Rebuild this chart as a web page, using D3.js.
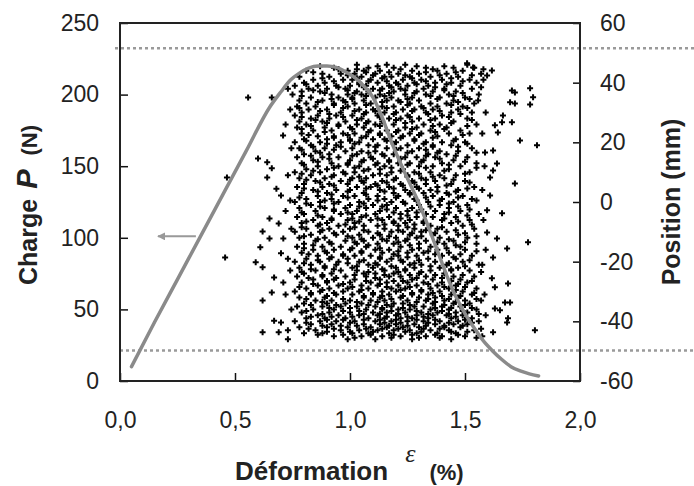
<!DOCTYPE html>
<html>
<head>
<meta charset="utf-8">
<script src="https://cdn.jsdelivr.net/npm/d3@7"></script>
<style>
  body { margin: 0; background: #fff; }
  svg { display: block; }
</style>
</head>
<body>
<svg id="chart" width="694" height="486"></svg>
<script>
// axes
const strainTicks = [0, 0.5, 1.0, 1.5, 2.0];
const loadTicks = [0, 50, 100, 150, 200, 250];
const positionTicks = [-60, -40, -20, 0, 20, 40, 60];

// load curve (left axis)
const loadStrain = [0.05, 0.15, 0.25, 0.35, 0.45, 0.55, 0.65, 0.70, 0.74, 0.78, 0.82, 0.86, 0.90, 0.94, 0.98,
  1.02, 1.06, 1.10, 1.14, 1.18, 1.22, 1.26, 1.30, 1.34, 1.38, 1.42, 1.46, 1.50, 1.54, 1.58, 1.62, 1.66,
  1.70, 1.74, 1.78, 1.82];
const loadValues = [10, 41, 71, 101, 131, 161, 191, 202, 210, 215, 218.5, 220, 220, 219, 216,
  212, 206, 198, 184, 167, 152, 138, 124, 108, 91, 74, 59, 47, 37, 28, 21, 15,
  10, 7, 5, 3.5];

// position scatter (right axis): [position mm, strains %]
const scatterRows = [
  [46, [1.03, 1.16, 1.24, 1.51]],
  [45, [0.93, 1.08, 1.19, 1.33, 1.45, 1.54]],
  [44, [0.81, 0.99, 1.06, 1.13, 1.27, 1.38, 1.49]],
  [43, [0.88, 0.96, 1.02, 1.11, 1.21, 1.30, 1.42, 1.57]],
  [42, [0.78, 0.91, 1.05, 1.15, 1.18, 1.26, 1.35, 1.47]],
  [41, [0.84, 0.97, 1.01, 1.09, 1.23, 1.31, 1.40, 1.52]],
  [40, [0.80, 0.89, 1.04, 1.12, 1.20, 1.28, 1.37, 1.44, 1.55]],
  [39, [0.76, 0.86, 0.94, 1.00, 1.07, 1.17, 1.25, 1.34, 1.48]],
  [38, [0.82, 0.90, 0.98, 1.10, 1.14, 1.22, 1.32, 1.41, 1.53]],
  [37, [0.79, 0.87, 1.03, 1.08, 1.19, 1.29, 1.36, 1.46]],
  [36, [0.75, 0.92, 0.99, 1.05, 1.13, 1.24, 1.33, 1.43, 1.56]],
  [35, [0.83, 0.95, 1.01, 1.11, 1.18, 1.27, 1.39, 1.50]],
  [34, [0.78, 0.88, 0.97, 1.06, 1.16, 1.21, 1.30, 1.45]],
  [33, [0.81, 0.93, 1.02, 1.09, 1.26, 1.35, 1.42, 1.54]],
  [32, [0.77, 0.85, 0.99, 1.14, 1.19, 1.31, 1.38, 1.49]],
  [31, [0.82, 0.90, 1.04, 1.10, 1.23, 1.28, 1.36, 1.47]],
  [30, [0.79, 0.96, 1.07, 1.15, 1.20, 1.33, 1.44, 1.53]],
  [29, [0.76, 0.86, 0.94, 1.01, 1.12, 1.25, 1.40]],
  [28, [0.83, 0.91, 1.05, 1.17, 1.22, 1.30, 1.37, 1.51]],
  [27, [0.78, 0.88, 0.98, 1.08, 1.14, 1.27, 1.45]],
  [26, [0.81, 0.95, 1.03, 1.11, 1.19, 1.32, 1.39, 1.55]],
  [25, [0.77, 0.89, 1.00, 1.06, 1.24, 1.29, 1.42]],
  [24, [0.84, 0.92, 1.09, 1.16, 1.21, 1.35, 1.48]],
  [23, [0.79, 0.97, 1.02, 1.13, 1.26, 1.31, 1.43, 1.52]],
  [22, [0.86, 0.93, 1.07, 1.18, 1.23, 1.38]],
  [21, [0.80, 0.90, 1.00, 1.10, 1.15, 1.28, 1.46]],
  [20, [0.76, 0.87, 0.96, 1.04, 1.20, 1.33, 1.40, 1.50]],
  [19, [0.83, 0.94, 1.08, 1.12, 1.25, 1.36, 1.44]],
  [18, [0.78, 0.89, 1.01, 1.16, 1.22, 1.30, 1.53]],
  [17, [0.85, 0.98, 1.05, 1.11, 1.27, 1.39, 1.47]],
  [16, [0.80, 0.91, 1.03, 1.14, 1.19, 1.34, 1.42]],
  [15, [0.77, 0.88, 0.95, 1.09, 1.24, 1.29, 1.37, 1.51]],
  [14, [0.84, 1.00, 1.06, 1.17, 1.32, 1.45]],
  [13, [0.79, 0.92, 0.99, 1.12, 1.21, 1.26, 1.40, 1.55]],
  [12, [0.86, 0.95, 1.04, 1.15, 1.30, 1.36, 1.48]],
  [11, [0.81, 0.90, 1.08, 1.13, 1.23, 1.43]],
  [10, [0.76, 0.87, 0.97, 1.02, 1.18, 1.28, 1.35, 1.52]],
  [9, [0.83, 0.93, 1.10, 1.16, 1.25, 1.39, 1.46]],
  [8, [0.78, 0.89, 1.01, 1.07, 1.20, 1.31, 1.41]],
  [7, [0.85, 0.96, 1.05, 1.14, 1.27, 1.37, 1.50]],
  [6, [0.80, 0.91, 0.99, 1.11, 1.22, 1.33, 1.44]],
  [5, [0.77, 0.88, 1.03, 1.09, 1.17, 1.29, 1.38, 1.54]],
  [4, [0.84, 0.94, 1.00, 1.13, 1.24, 1.35, 1.47]],
  [3, [0.79, 0.90, 1.06, 1.19, 1.26, 1.32, 1.42]],
  [2, [0.86, 0.97, 1.02, 1.12, 1.21, 1.36, 1.49]],
  [1, [0.81, 0.92, 1.08, 1.15, 1.28, 1.40, 1.53]],
  [0, [0.76, 0.87, 0.95, 1.04, 1.18, 1.23, 1.34, 1.45]],
  [-1, [0.83, 1.00, 1.10, 1.16, 1.30, 1.39, 1.51]],
  [-2, [0.78, 0.89, 0.98, 1.07, 1.20, 1.27, 1.43]],
  [-3, [0.85, 0.93, 1.03, 1.13, 1.25, 1.37, 1.48]],
  [-4, [0.80, 0.96, 1.01, 1.11, 1.22, 1.33, 1.41, 1.56]],
  [-5, [0.77, 0.88, 1.05, 1.17, 1.29, 1.36, 1.46]],
  [-6, [0.84, 0.92, 0.99, 1.09, 1.14, 1.26, 1.40, 1.52]],
  [-7, [0.79, 0.90, 1.02, 1.19, 1.24, 1.32, 1.44]],
  [-8, [0.86, 0.95, 1.06, 1.12, 1.21, 1.35, 1.49]],
  [-9, [0.81, 0.91, 1.00, 1.15, 1.28, 1.38, 1.54]],
  [-10, [0.76, 0.87, 0.97, 1.08, 1.18, 1.23, 1.31, 1.42]],
  [-11, [0.83, 0.94, 1.04, 1.13, 1.26, 1.36, 1.47]],
  [-12, [0.78, 0.89, 1.01, 1.10, 1.20, 1.29, 1.39, 1.51]],
  [-13, [0.85, 0.98, 1.06, 1.16, 1.24, 1.33, 1.45]],
  [-14, [0.80, 0.92, 1.03, 1.12, 1.19, 1.30, 1.41, 1.55]],
  [-15, [0.77, 0.88, 0.96, 1.07, 1.22, 1.35, 1.48]],
  [-16, [0.84, 0.93, 1.00, 1.11, 1.17, 1.27, 1.38, 1.50]],
  [-17, [0.79, 0.90, 1.05, 1.14, 1.25, 1.32, 1.43]],
  [-18, [0.86, 0.97, 1.02, 1.09, 1.21, 1.29, 1.40, 1.53]],
  [-19, [0.81, 0.91, 0.99, 1.13, 1.18, 1.34, 1.46]],
  [-20, [0.76, 0.87, 0.95, 1.04, 1.16, 1.23, 1.37, 1.49]],
  [-21, [0.83, 0.94, 1.08, 1.12, 1.26, 1.31, 1.42, 1.56]],
  [-22, [0.78, 0.89, 1.01, 1.10, 1.20, 1.28, 1.39, 1.47]],
  [-23, [0.85, 0.96, 1.03, 1.15, 1.24, 1.35, 1.44, 1.52]],
  [-24, [0.80, 0.92, 1.06, 1.11, 1.19, 1.30, 1.41]],
  [-25, [0.77, 0.88, 0.98, 1.07, 1.17, 1.22, 1.33, 1.45, 1.54]],
  [-26, [0.84, 0.93, 1.02, 1.13, 1.27, 1.36, 1.48]],
  [-27, [0.79, 0.90, 1.00, 1.09, 1.16, 1.25, 1.32, 1.40, 1.51]],
  [-28, [0.86, 0.95, 1.05, 1.12, 1.21, 1.29, 1.38, 1.46]],
  [-29, [0.81, 0.91, 0.99, 1.08, 1.18, 1.24, 1.35, 1.43, 1.55]],
  [-30, [0.76, 0.87, 0.97, 1.04, 1.14, 1.20, 1.31, 1.39, 1.49]],
  [-31, [0.83, 0.94, 1.01, 1.10, 1.17, 1.27, 1.34, 1.44, 1.53]],
  [-32, [0.78, 0.89, 1.06, 1.13, 1.22, 1.30, 1.37, 1.47]],
  [-33, [0.85, 0.92, 1.00, 1.09, 1.15, 1.25, 1.33, 1.41, 1.50, 1.57]],
  [-34, [0.80, 0.90, 0.98, 1.05, 1.19, 1.23, 1.36, 1.45, 1.52]],
  [-35, [0.77, 0.88, 0.96, 1.03, 1.11, 1.18, 1.28, 1.32, 1.40, 1.48]],
  [-36, [0.84, 0.93, 1.07, 1.14, 1.21, 1.26, 1.35, 1.43, 1.55]],
  [-37, [0.79, 0.91, 1.00, 1.10, 1.16, 1.24, 1.31, 1.38, 1.46, 1.51]],
  [-38, [0.86, 0.95, 1.04, 1.12, 1.20, 1.29, 1.36, 1.42, 1.49]],
  [-39, [0.81, 0.89, 0.98, 1.08, 1.15, 1.22, 1.27, 1.34, 1.44, 1.53]],
  [-40, [0.76, 0.87, 0.94, 1.02, 1.11, 1.18, 1.25, 1.32, 1.39, 1.47, 1.56]],
  [-41, [0.83, 0.92, 1.06, 1.13, 1.20, 1.28, 1.37, 1.45, 1.51]],
  [-42, [0.78, 0.90, 0.99, 1.09, 1.16, 1.23, 1.30, 1.41, 1.48]],
  [-43, [0.85, 0.96, 1.04, 1.12, 1.19, 1.26, 1.35, 1.43, 1.54]],
  [-44, [0.80, 0.88, 1.01, 1.08, 1.17, 1.29, 1.38, 1.46]],
  [-45, [0.93, 1.05, 1.14, 1.22, 1.33, 1.40, 1.50]],
  [-46, [0.99, 1.11, 1.27, 1.44]]
];

// second, offset set of rows read between the ones above
const scatterRowsOffset = [
  [45.5, [0.87, 1.12, 1.29, 1.41]],
  [44.5, [0.95, 1.03, 1.22, 1.36, 1.58]],
  [43.5, [0.84, 1.07, 1.17, 1.33, 1.46]],
  [42.5, [0.99, 1.10, 1.24, 1.39, 1.53]],
  [41.5, [0.88, 1.03, 1.14, 1.27, 1.44]],
  [40.5, [0.93, 1.08, 1.16, 1.33, 1.49]],
  [39.5, [0.81, 1.04, 1.21, 1.29, 1.42]],
  [38.5, [0.95, 1.06, 1.18, 1.37, 1.57]],
  [37.5, [0.84, 0.99, 1.13, 1.24, 1.41]],
  [36.5, [0.89, 1.02, 1.17, 1.28, 1.49]],
  [35.5, [0.79, 1.07, 1.15, 1.35, 1.45]],
  [34.5, [0.92, 1.01, 1.25, 1.38, 1.52]],
  [33.5, [0.86, 0.98, 1.14, 1.22, 1.47]],
  [32.5, [0.93, 1.07, 1.25, 1.44]],
  [31.5, [0.78, 0.97, 1.16, 1.32, 1.51]],
  [30.5, [0.87, 1.02, 1.11, 1.27, 1.39]],
  [29.5, [0.91, 1.06, 1.19, 1.34, 1.48]],
  [28.5, [0.79, 0.97, 1.13, 1.26, 1.43]],
  [27.5, [0.85, 1.03, 1.20, 1.35, 1.53]],
  [26.5, [0.90, 1.07, 1.24, 1.44]],
  [25.5, [0.83, 0.95, 1.13, 1.36, 1.51]],
  [24.5, [0.79, 1.01, 1.27, 1.41]],
  [23.5, [0.89, 1.08, 1.20, 1.37]],
  [22.5, [0.82, 0.99, 1.13, 1.30, 1.49]],
  [21.5, [0.93, 1.05, 1.22, 1.36]],
  [20.5, [0.81, 1.00, 1.16, 1.28, 1.45]],
  [19.5, [0.90, 1.02, 1.19, 1.32, 1.51]],
  [18.5, [0.84, 0.96, 1.11, 1.36, 1.47]],
  [17.5, [0.79, 0.93, 1.20, 1.33]],
  [16.5, [0.87, 1.08, 1.25, 1.38, 1.55]],
  [15.5, [0.83, 1.01, 1.15, 1.33, 1.46]],
  [14.5, [0.91, 1.10, 1.22, 1.39]],
  [13.5, [0.86, 1.05, 1.17, 1.31, 1.50]],
  [12.5, [0.80, 0.99, 1.11, 1.25, 1.43]],
  [11.5, [0.93, 1.02, 1.18, 1.33, 1.55]],
  [10.5, [0.84, 1.06, 1.22, 1.41]],
  [9.5, [0.79, 0.98, 1.13, 1.30, 1.50]],
  [8.5, [0.92, 1.04, 1.25, 1.36]],
  [7.5, [0.81, 1.00, 1.19, 1.33, 1.45]],
  [6.5, [0.87, 1.06, 1.16, 1.28, 1.52]],
  [5.5, [0.93, 1.12, 1.23, 1.42]],
  [4.5, [0.80, 1.07, 1.19, 1.30, 1.51]],
  [3.5, [0.86, 0.99, 1.15, 1.38, 1.46]],
  [2.5, [0.92, 1.07, 1.26, 1.43]],
  [1.5, [0.78, 0.99, 1.20, 1.33, 1.47]],
  [0.5, [0.89, 1.12, 1.29, 1.39, 1.55]],
  [-0.5, [0.81, 0.93, 1.06, 1.24, 1.43]],
  [-1.5, [0.87, 1.04, 1.14, 1.35, 1.47]],
  [-2.5, [0.93, 1.16, 1.31, 1.52]],
  [-3.5, [0.79, 0.99, 1.19, 1.29, 1.43]],
  [-4.5, [0.86, 1.07, 1.25, 1.51]],
  [-5.5, [0.92, 1.01, 1.12, 1.22, 1.41]],
  [-6.5, [0.81, 1.04, 1.19, 1.32, 1.47]],
  [-7.5, [0.87, 0.98, 1.15, 1.28, 1.53]],
  [-8.5, [0.79, 1.02, 1.25, 1.40]],
  [-9.5, [0.88, 1.06, 1.21, 1.33, 1.46]],
  [-10.5, [0.93, 1.12, 1.27, 1.37, 1.50]],
  [-11.5, [0.80, 0.99, 1.17, 1.31, 1.55]],
  [-12.5, [0.86, 1.05, 1.14, 1.25, 1.43]],
  [-13.5, [0.91, 1.02, 1.21, 1.38, 1.50]],
  [-14.5, [0.84, 1.08, 1.26, 1.46]],
  [-15.5, [0.80, 1.01, 1.13, 1.30, 1.42]],
  [-16.5, [0.89, 1.05, 1.21, 1.34, 1.55]],
  [-17.5, [0.82, 0.97, 1.19, 1.37, 1.48]],
  [-18.5, [0.92, 1.13, 1.25, 1.45]],
  [-19.5, [0.86, 1.06, 1.22, 1.30, 1.52]],
  [-20.5, [0.80, 0.99, 1.11, 1.28, 1.43]],
  [-21.5, [0.89, 1.03, 1.18, 1.35, 1.50]],
  [-22.5, [0.83, 0.93, 1.14, 1.24, 1.44]],
  [-23.5, [0.79, 1.08, 1.21, 1.31, 1.57]],
  [-24.5, [0.88, 1.02, 1.15, 1.26, 1.37, 1.49]],
  [-25.5, [0.82, 0.94, 1.11, 1.29, 1.40]],
  [-26.5, [0.90, 1.07, 1.19, 1.23, 1.44, 1.53]],
  [-27.5, [0.84, 0.97, 1.13, 1.34, 1.47]],
  [-28.5, [0.78, 1.01, 1.16, 1.26, 1.41, 1.50]],
  [-29.5, [0.88, 1.05, 1.22, 1.31, 1.46]],
  [-30.5, [0.83, 0.93, 1.10, 1.27, 1.36, 1.54]],
  [-31.5, [0.90, 1.06, 1.14, 1.23, 1.40, 1.48]],
  [-32.5, [0.81, 0.97, 1.18, 1.34, 1.43, 1.55]],
  [-33.5, [0.88, 1.03, 1.12, 1.29, 1.37, 1.46]],
  [-34.5, [0.83, 0.94, 1.08, 1.16, 1.26, 1.41, 1.50]],
  [-35.5, [0.91, 1.00, 1.14, 1.23, 1.37, 1.44, 1.53]],
  [-36.5, [0.81, 0.97, 1.04, 1.18, 1.29, 1.40, 1.49]],
  [-37.5, [0.88, 1.06, 1.13, 1.21, 1.34, 1.43, 1.56]],
  [-38.5, [0.83, 0.92, 1.01, 1.16, 1.25, 1.32, 1.46]],
  [-39.5, [0.90, 0.97, 1.06, 1.13, 1.20, 1.29, 1.37, 1.50]],
  [-40.5, [0.81, 1.00, 1.15, 1.22, 1.34, 1.43, 1.53]],
  [-41.5, [0.88, 0.96, 1.03, 1.17, 1.25, 1.33, 1.41, 1.49]],
  [-42.5, [0.82, 0.93, 1.07, 1.14, 1.21, 1.32, 1.39, 1.57]],
  [-43.5, [0.90, 1.00, 1.10, 1.24, 1.31, 1.44, 1.51]],
  [-44.5, [0.86, 0.97, 1.09, 1.19, 1.27, 1.37, 1.47]],
  [-45.5, [1.02, 1.18, 1.30, 1.39, 1.55]]
];

// isolated points outside the dense cloud: [strain %, position mm]
const outlierPoints = [
  [0.465, 8.2], [0.457, -18.6], [0.557, 35], [0.66, 35], [0.709, 22.3], [0.60, 14.6], [0.64, 13.3],
  [0.66, 11.3], [0.64, 8.2], [0.68, 4.4], [0.70, 2.2], [0.65, -5.5], [0.69, -7.2], [0.62, -9.9],
  [0.65, -12.2], [0.71, -12.2], [0.61, -15.2], [0.70, -17.2], [0.59, -20.2], [0.62, -21.9],
  [0.67, -25.3], [0.71, -27], [0.66, -30.3], [0.62, -33], [0.67, -39.8], [0.70, -40.4],
  [0.62, -43.7], [0.69, -43.7], [0.73, -43],
  [0.73, 38], [0.74, 31], [0.72, 26], [0.745, 18], [0.73, 9], [0.74, 0.5], [0.72, -3],
  [0.745, -9], [0.73, -19], [0.74, -23], [0.72, -31], [0.745, -36], [0.73, -46],
  [1.58, 41], [1.59, 30], [1.575, 23], [1.585, 12], [1.575, 4], [1.58, -6], [1.59, -16],
  [1.575, -21], [1.585, -31], [1.59, -38], [1.575, -45],
  [1.509, 46.5], [1.535, 45.1], [1.557, 34], [1.617, 44.1], [1.596, 42.4], [1.704, 37.4],
  [1.717, 36.7], [1.783, 38.1], [1.796, 35.1], [1.696, 33.4], [1.717, 33.0], [1.783, 32.7],
  [1.665, 29.0], [1.661, 26.7], [1.704, 26.7], [1.739, 20.6], [1.813, 19.0], [1.63, 25.7],
  [1.643, 23.3], [1.587, 16.6], [1.622, 17.3], [1.639, 12.9], [1.622, 10.6], [1.609, 8.2],
  [1.717, 6.2], [1.609, 2.2], [1.596, -2.8], [1.661, -3.8], [1.596, -10.2], [1.639, -12.2],
  [1.774, -13.5], [1.683, -15.6], [1.622, -18.6], [1.617, -25.6], [1.63, -28.6], [1.687, -27.3],
  [1.674, -33.7], [1.696, -33.7], [1.63, -35.7], [1.652, -36.3], [1.687, -39.0], [1.683, -40.4],
  [1.622, -43.7], [1.804, -43.0]
];

// dotted limit lines (right axis, mm) and arrow (left axis)
const limitPositions = [51.5, -49.8];
const arrowStrain = [0.33, 0.165];
const arrowLoad = 101;

const width = 694, height = 486;
const margin = { left: 120, right: 114, top: 23, bottom: 105 };
const sans = "'Liberation Sans', Arial, Helvetica, sans-serif";
const serif = "'Liberation Serif', 'Times New Roman', serif";

const svg = d3.select('#chart');

const x = d3.scaleLinear().domain([0, 2]).range([margin.left, width - margin.right]);
const yLoad = d3.scaleLinear().domain([0, 250]).range([height - margin.bottom, margin.top]);
const yPos = d3.scaleLinear().domain([-60, 60]).range([height - margin.bottom, margin.top]);

const fmtComma = d => d3.format('.1f')(d).replace('.', ',');
const fmtHyphen = d => String(d);

// dotted lines
svg.selectAll('line.limit')
  .data(limitPositions)
  .enter()
  .append('line')
  .attr('class', 'limit')
  .attr('x1', (d, i) => x(0) - (i === 0 ? 5 : 0))
  .attr('x2', width)
  .attr('y1', d => yPos(d))
  .attr('y2', d => yPos(d))
  .attr('stroke', '#9a9a9a')
  .attr('stroke-width', 2.5)
  .attr('stroke-dasharray', '3,3');

// scatter
const scatterData = scatterRows.concat(scatterRowsOffset)
  .flatMap(([pos, strains]) => strains.map(s => [s, pos]))
  .concat(outlierPoints);

svg.append('g')
  .selectAll('path')
  .data(scatterData)
  .enter()
  .append('path')
  .attr('transform', d => `translate(${x(d[0])},${yPos(d[1])})`)
  .attr('d', d3.symbol(d3.symbolCross, 20))
  .attr('fill', '#000');

// load curve
svg.append('path')
  .datum(loadStrain.map((s, i) => [s, loadValues[i]]))
  .attr('fill', 'none')
  .attr('stroke', '#8a8a8a')
  .attr('stroke-width', 3.5)
  .attr('stroke-linejoin', 'round')
  .attr('stroke-linecap', 'round')
  .attr('d', d3.line().x(d => x(d[0])).y(d => yLoad(d[1])).curve(d3.curveMonotoneX));

// arrow
svg.append('defs').append('marker')
  .attr('id', 'head')
  .attr('viewBox', '0 0 10 10')
  .attr('refX', 9).attr('refY', 5)
  .attr('markerWidth', 4).attr('markerHeight', 4)
  .attr('orient', 'auto')
  .append('path')
  .attr('d', 'M0,0L10,5L0,10Z')
  .attr('fill', '#999');

svg.append('line')
  .attr('x1', x(arrowStrain[0])).attr('x2', x(arrowStrain[1]))
  .attr('y1', yLoad(arrowLoad)).attr('y2', yLoad(arrowLoad))
  .attr('stroke', '#999')
  .attr('stroke-width', 2)
  .attr('marker-end', 'url(#head)');

// axes
const styleAxis = g => {
  g.select('.domain').remove();
  g.selectAll('.tick line').attr('stroke', '#111').attr('stroke-width', 1.5);
  g.selectAll('.tick text').attr('fill', '#222').style('font-family', sans).style('font-size', '23px');
};

svg.append('g')
  .attr('transform', `translate(0,${height - margin.bottom})`)
  .call(d3.axisBottom(x).tickValues(strainTicks).tickFormat(fmtComma).tickSizeInner(-8).tickSizeOuter(0).tickPadding(31))
  .call(styleAxis);

svg.append('g')
  .attr('transform', `translate(${margin.left},0)`)
  .call(d3.axisLeft(yLoad).tickValues(loadTicks).tickSizeInner(-8).tickSizeOuter(0).tickPadding(21))
  .call(styleAxis);

svg.append('g')
  .attr('transform', `translate(${width - margin.right},0)`)
  .call(d3.axisRight(yPos).tickValues(positionTicks).tickFormat(fmtHyphen).tickSizeInner(-7).tickSizeOuter(0).tickPadding(20))
  .call(styleAxis);

// frame
svg.append('rect')
  .attr('x', x(0)).attr('y', yLoad(250))
  .attr('width', x(2) - x(0)).attr('height', yLoad(0) - yLoad(250))
  .attr('fill', 'none')
  .attr('stroke', '#222')
  .attr('stroke-width', 2);

// axis titles
const xTitle = svg.append('text')
  .attr('x', 235).attr('y', 480)
  .attr('fill', '#222')
  .style('font-family', sans);
xTitle.append('tspan').text('Déformation').style('font-weight', 'bold').style('font-size', '26px');
xTitle.append('tspan').text('ε').attr('dx', 17).attr('dy', -18)
  .style('font-family', serif).style('font-style', 'italic').style('font-size', '26px');
xTitle.append('tspan').text('(%)').attr('dx', 14).attr('dy', 18)
  .style('font-weight', 'bold').style('font-size', '22px');

const yTitle = svg.append('text')
  .attr('transform', `translate(37,${yLoad(0) - 96}) rotate(-90)`)
  .attr('fill', '#222')
  .style('font-family', sans)
  .style('font-weight', 'bold');
yTitle.append('tspan').text('Charge').style('font-size', '25px');
yTitle.append('tspan').text('P').attr('dx', 10).style('font-style', 'italic').style('font-size', '29px');
yTitle.append('tspan').text('(N)').attr('dx', 14).style('font-size', '22px');

svg.append('text')
  .attr('transform', `translate(680,${(yPos(-60) + yPos(60)) / 2}) rotate(-90)`)
  .attr('text-anchor', 'middle')
  .attr('fill', '#222')
  .style('font-family', sans)
  .style('font-weight', 'bold')
  .style('font-size', '25px')
  .text('Position (mm)');
</script>
</body>
</html>
